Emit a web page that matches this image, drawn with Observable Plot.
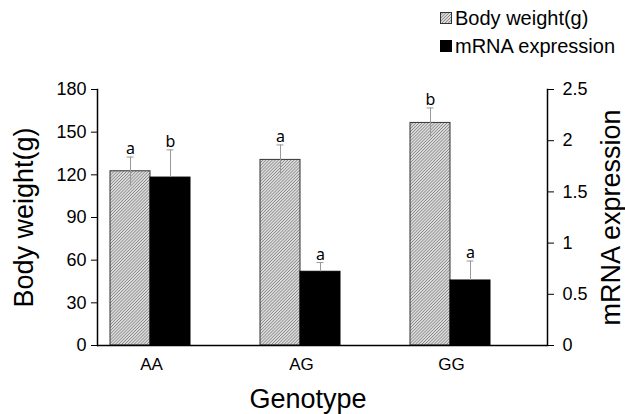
<!DOCTYPE html>
<html><head><meta charset="utf-8">
<script src="https://cdn.jsdelivr.net/npm/d3@7"></script>
<script src="https://cdn.jsdelivr.net/npm/@observablehq/plot@0.6"></script>
<style>
body{margin:0;background:#fff;font-family:"Liberation Sans",Arial,sans-serif;}
#legend{height:60px;position:relative;}
.row{position:absolute;left:440px;display:flex;align-items:center;font-size:20px;color:#000;line-height:22px;}
.sw{width:12px;height:12px;margin-right:3px;box-sizing:border-box;}
#chart svg g[aria-label="y-axis label"] text{font-size:27px !important;}
#caption{width:616px;text-align:center;font-size:27px;line-height:30px;height:30px;color:#000;}
</style></head><body>
<div id="legend"></div>
<div id="chart"></div>
<div id="caption"></div>
<script>
const genotypes = ["AA", "AG", "GG"];
const series = ["Body weight(g)", "mRNA expression"];
const bodyWeight = [122.5, 130.5, 156.5];
const bodyWeightSE = [10, 10.5, 10.5];
const mrna = [1.64, 0.72, 0.635];
const mrnaSE = [0.27, 0.09, 0.19];
const bodyWeightLetters = ["a", "a", "b"];
const mrnaLetters = ["b", "a", "a"];
const leftTicks = [0, 30, 60, 90, 120, 150, 180];
const rightTicks = [0, 0.5, 1, 1.5, 2, 2.5];
const xTitle = "Genotype";

const leftMax = 180, rightMax = 2.5, k = leftMax / rightMax;

const rows = genotypes.flatMap((g, i) => [
  {genotype: g, series: series[0], value: bodyWeight[i], se: bodyWeightSE[i], letter: bodyWeightLetters[i]},
  {genotype: g, series: series[1], value: mrna[i] * k, se: mrnaSE[i] * k, letter: mrnaLetters[i]}
]);
const bw = rows.filter(d => d.series === series[0]);
const mr = rows.filter(d => d.series === series[1]);

const plot = Plot.plot({
  width: 625, height: 324,
  marginLeft: 96, marginRight: 78, marginTop: 29, marginBottom: 39,
  style: {fontFamily: '"Liberation Sans", Arial, sans-serif', fontSize: "18px", color: "#000", background: "#fff"},
  fx: {domain: genotypes, padding: 0},
  x: {domain: series, paddingInner: 0, paddingOuter: 0.856, align: 0.188, axis: null},
  y: {domain: [0, leftMax]},
  marks: [
    Plot.barY(bw, {fx: "genotype", x: "series", y: "value", fill: "url(#hatch)", stroke: "#333", strokeWidth: 1}),
    Plot.ruleX(bw, {fx: "genotype", x: "series", y1: d => d.value - d.se, y2: d => d.value + d.se, stroke: "#999", strokeWidth: 1}),
    Plot.barY(mr, {fx: "genotype", x: "series", y: "value", fill: "#000", stroke: "#000"}),
    Plot.ruleX(mr, {fx: "genotype", x: "series", y1: "value", y2: d => d.value + d.se, stroke: "#999", strokeWidth: 1}),
    Plot.tickY(rows, {fx: "genotype", x: "series", y: d => d.value + d.se, stroke: "#999", inset: 16.5}),
    Plot.text(rows, {fx: "genotype", x: "series", y: d => d.value + d.se, text: "letter", lineAnchor: "bottom", dy: -3, fontSize: 16, fontFamily: '"Noto Sans", sans-serif'}),
    Plot.ruleY([0], {stroke: "#000", strokeWidth: 1.5}),
    Plot.frame({anchor: "left", facetAnchor: "left", stroke: "#000", strokeWidth: 1.5}),
    Plot.frame({anchor: "right", facetAnchor: "right", stroke: "#000", strokeWidth: 1.5}),
    Plot.axisY({anchor: "left", ticks: leftTicks, tickSize: 6, tickPadding: 5, fontSize: 18, label: "Body weight(g)", labelAnchor: "center", labelArrow: "none", labelOffset: 84}),
    Plot.axisY({anchor: "right", ticks: rightTicks.map(v => v * k), tickFormat: d => String(Math.round(d / k * 10) / 10), tickSize: 6, tickPadding: 9, fontSize: 18, label: "mRNA expression", labelAnchor: "center", labelArrow: "none", labelOffset: 72}),
    Plot.axisFx({anchor: "bottom", tickSize: 0, tickPadding: 12, fontSize: 17, dx: -21, label: null})
  ]
});

const svg = d3.select(plot);
const defs = svg.insert("defs", ":first-child");
const pat = defs.append("pattern").attr("id", "hatch").attr("patternUnits", "userSpaceOnUse")
  .attr("width", 2.2).attr("height", 2.2).attr("patternTransform", "rotate(45)");
pat.append("rect").attr("width", 2.2).attr("height", 2.2).attr("fill", "#dcdcdc");
pat.append("line").attr("x1", 0).attr("y1", 0).attr("x2", 0).attr("y2", 2.2).attr("stroke", "#505050").attr("stroke-width", 0.9);

document.getElementById("chart").appendChild(plot);
document.getElementById("caption").textContent = xTitle;

const legend = d3.select("#legend");
series.forEach((s, i) => {
  const row = legend.append("div").attr("class", "row").style("top", (7 + i * 28) + "px");
  const sw = row.append("svg").attr("class", "sw").attr("width", 12).attr("height", 12);
  sw.append("rect").attr("x", 0.5).attr("y", 0.5).attr("width", 11).attr("height", 11)
    .attr("fill", i === 0 ? "url(#hatch)" : "#000").attr("stroke", i === 0 ? "#333" : "#000");
  row.append("span").text(s);
});
</script>
</body></html>
